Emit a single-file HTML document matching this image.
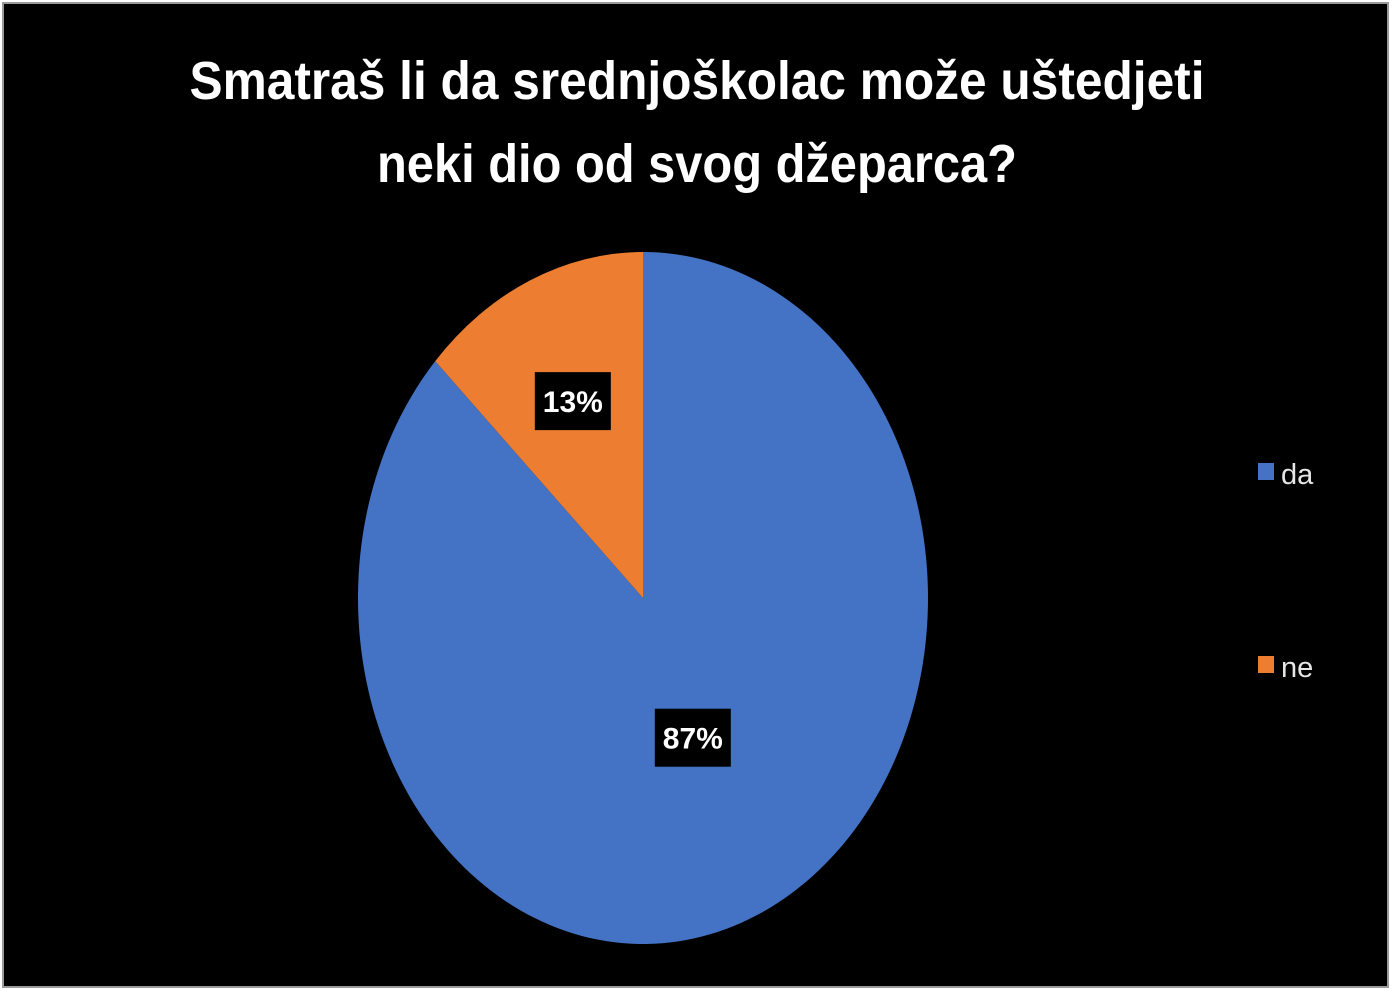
<!DOCTYPE html>
<html><head><meta charset="utf-8"><style>
html,body{margin:0;padding:0;background:#fff;width:1392px;height:991px;overflow:hidden}
svg{display:block}
text{font-family:"Liberation Sans Narrow","Liberation Sans",sans-serif}
</style></head><body>
<svg id="chart" width="1392" height="991">
<rect x="3" y="3" width="1385" height="984" fill="#000" stroke="#9a9a9a" stroke-width="2"/>
<text x="697" y="99" fill="#fff" font-size="54" font-weight="bold" text-anchor="middle" textLength="1015" lengthAdjust="spacingAndGlyphs">Smatraš li da srednjoškolac može uštedjeti</text>
<text x="697" y="182" fill="#fff" font-size="54" font-weight="bold" text-anchor="middle" textLength="640" lengthAdjust="spacingAndGlyphs">neki dio od svog džeparca?</text>
<g id="slices"></g>
<g id="labels"></g>
<g id="legend"></g>
</svg>
<script>
const categories = ["da", "ne"];
const values = [87, 13];
const labels = ["87%", "13%"];
const colors = ["#4472c4", "#ed7d31"];
const cx = 643, cy = 598, rx = 285, ry = 346;
const NS = "http://www.w3.org/2000/svg";
const total = values.reduce((a, b) => a + b, 0);
function pt(frac, s) { const a = frac * 2 * Math.PI; return [cx + s * rx * Math.sin(a), cy - s * ry * Math.cos(a)]; }
let start = 0;
const slices = document.getElementById('slices'), lab = document.getElementById('labels'), leg = document.getElementById('legend');
values.forEach((v, i) => {
  const f = v / total, end = start + f;
  const p0 = pt(start, 1), p1 = pt(end, 1);
  const path = document.createElementNS(NS, 'path');
  path.setAttribute('d', `M${cx},${cy} L${p0[0]},${p0[1]} A${rx},${ry} 0 ${f > 0.5 ? 1 : 0} 1 ${p1[0]},${p1[1]} Z`);
  path.setAttribute('fill', colors[i]);
  
  
  slices.appendChild(path);
  const lp = pt(start + f / 2, i === 0 ? 0.44 : 0.62);
  const g = document.createElementNS(NS, 'g');
  
  
  const r = document.createElementNS(NS, 'rect');
  r.setAttribute('x', lp[0] - 38); r.setAttribute('y', lp[1] - 29);
  r.setAttribute('width', 76); r.setAttribute('height', 58); r.setAttribute('fill', '#000');
  g.appendChild(r);
  const t = document.createElementNS(NS, 'text');
  t.setAttribute('x', lp[0]); t.setAttribute('y', lp[1] + 11);
  t.setAttribute('fill', '#fff'); t.setAttribute('font-size', '30'); t.setAttribute('font-weight', 'bold');
  t.setAttribute('text-anchor', 'middle');
  t.textContent = labels[i];
  g.appendChild(t);
  lab.appendChild(g);
  const ly = [472, 665][i];
  const lg = document.createElementNS(NS, 'g');
  
  
  const sq = document.createElementNS(NS, 'rect');
  sq.setAttribute('x', 1258); sq.setAttribute('y', ly - 9); sq.setAttribute('width', 16); sq.setAttribute('height', 17);
  sq.setAttribute('fill', colors[i]);
  lg.appendChild(sq);
  const lt = document.createElementNS(NS, 'text');
  lt.setAttribute('x', 1281); lt.setAttribute('y', ly + 12);
  lt.setAttribute('fill', '#e6e6e6'); lt.setAttribute('font-size', '29');
  lt.textContent = categories[i];
  lg.appendChild(lt);
  leg.appendChild(lg);
  start = end;
});
</script>
</body></html>
